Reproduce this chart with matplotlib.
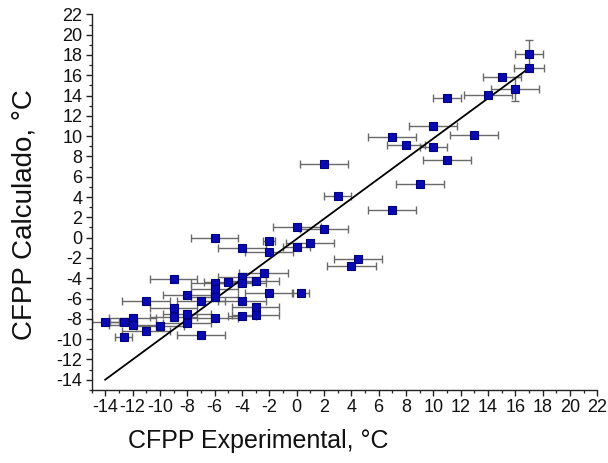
import matplotlib
matplotlib.use("Agg")
import matplotlib.pyplot as plt
from matplotlib.ticker import MultipleLocator

plt.rcParams['font.family'] = ['Liberation Sans', 'DejaVu Sans']
plt.rcParams['axes.unicode_minus'] = False

# Experimental vs calculated CFPP (°C)
cfpp_exp = [17, 17, 15, 16, 14, 11, 10, 13, 8, 10, 11, 7, 2, 9, 3, 7,
            0, 2, -2, 1, 0, -2, 4.5, 4, -2.4, -3, -2, 0.3,
            -6, -4, -4, -5, -4, -6, -9, -6, -8, -6, -7, -11, -4,
            -9, -3, -3, -4, -6, -8, -9, -8, -10, -12, -12, -12.65, -14,
            -11, -12.65, -7]
cfpp_calc = [18.1, 16.67, 15.84, 14.63, 14.04, 13.77, 11.0, 10.1, 9.1, 8.95, 7.64, 9.93, 7.24, 5.24, 4.12, 2.71,
             1.06, 0.84, -0.32, -0.51, -0.91, -1.4, -2.09, -2.81, -3.47, -4.26, -5.5, -5.44,
             -0.08, -1.06, -3.92, -4.35, -4.45, -4.45, -4.12, -5.1, -5.67, -5.83, -6.26, -6.26, -6.26,
             -6.98, -6.88, -7.64, -7.73, -7.9, -7.57, -7.8, -8.39, -8.72, -7.96, -8.62, -8.3, -8.3,
             -9.21, -9.83, -9.64]
x_err = [1.0, 1.1, 1.4, 1.75, 1.75, 1.0, 1.75, 1.75, 1.4, 1.0, 1.75, 1.75, 1.75, 1.75, 1.0, 1.75,
         1.75, 1.75, 0.45, 1.75, 1.0, 1.75, 1.75, 1.8, 1.8, 1.75, 1.75, 0.6,
         1.75, 1.75, 1.75, 1.75, 1.75, 1.75, 1.75, 1.75, 1.75, 1.75, 1.75, 1.75, 1.75,
         1.75, 1.75, 1.75, 1.0, 1.75, 1.75, 1.75, 1.75, 1.75, 1.75, 1.75, 1.0, 1.0,
         1.75, 0.6, 1.75]
y_err = [1.4, 0, 0, 1.2, 0, 0, 0, 0, 0, 0, 0, 0, 0, 0, 0, 0,
         0, 0, 0, 0, 0, 0, 0, 0, 0, 0, 0, 0,
         0, 0, 0, 0, 0, 0, 0, 0, 0, 0, 0, 0, 0,
         0, 0, 0, 0, 0, 0, 0, 0, 0, 0, 0, 0, 0,
         0, 0, 0]

fit_x = [-14, 17]
fit_y = [-14, 16.7]

fig = plt.figure(figsize=(6.08, 4.63), dpi=100)
ax = fig.add_axes([0.1505, 0.158, 0.832, 0.811])

ax.errorbar(cfpp_exp, cfpp_calc, xerr=x_err, yerr=y_err, fmt='none',
            ecolor='#6a6a6a', elinewidth=1.0, capsize=3, capthick=1.0, zorder=2)
ax.plot(fit_x, fit_y, color='black', linewidth=1.3, zorder=3)
ax.plot(cfpp_exp, cfpp_calc, linestyle='none', marker='s', markersize=6.3,
        markerfacecolor='#0a0ab0', markeredgecolor='#00007a', markeredgewidth=0.8, zorder=4)

ax.set_xlim(-15, 22)
ax.set_ylim(-15, 22)
ax.xaxis.set_minor_locator(MultipleLocator(1))
ax.yaxis.set_minor_locator(MultipleLocator(1))
ax.set_xticks(range(-14, 23, 2))
ax.set_yticks(range(-14, 23, 2))

for s in ['top', 'right']:
    ax.spines[s].set_visible(False)
for s in ['left', 'bottom']:
    ax.spines[s].set_linewidth(1.0)
    ax.spines[s].set_color('#222222')

ax.tick_params(which='major', direction='out', length=4.5, width=1.0, labelsize=13,
               colors='#222222', pad=2)
ax.tick_params(which='minor', direction='out', length=2.5, width=0.9, colors='#222222')
ax.tick_params(axis='x', labelcolor='#111111')
ax.tick_params(axis='y', labelcolor='#111111')

fig.text(0.425, 0.0475, 'CFPP Experimental, °C', ha='center', va='center',
         fontsize=18, color='#111111')
fig.text(0.0395, 0.5356, 'CFPP Calculado, °C', ha='center', va='center',
         rotation=90, fontsize=20, color='#111111')

fig.savefig('out.png', dpi=100)
